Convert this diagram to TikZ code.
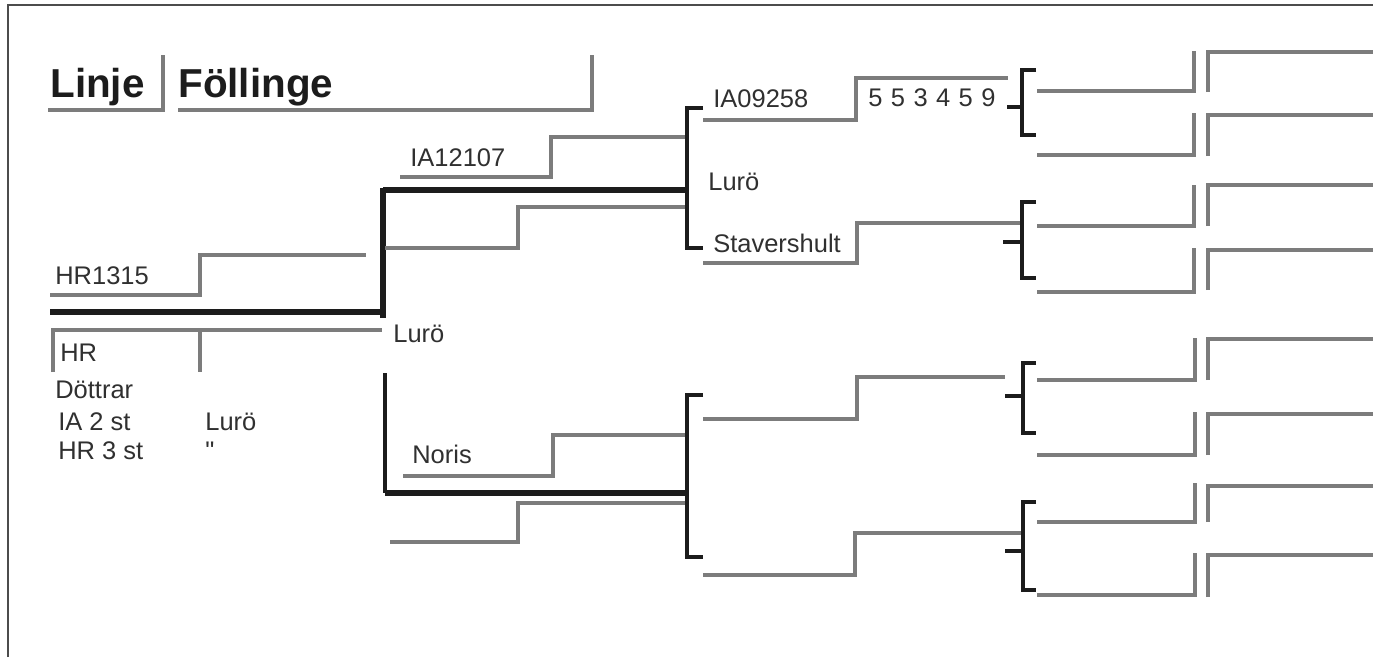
\documentclass[tikz,border=0pt]{standalone}
\usepackage{fontspec}
\setmainfont{Liberation Sans}
\usepackage{xcolor}
\usetikzlibrary{positioning}
\definecolor{scangray}{HTML}{7C7C7C}
\definecolor{inkblack}{HTML}{1C1C1C}
\definecolor{textgray}{HTML}{303030}

\begin{document}
\begin{tikzpicture}[x=0.02cm, y=-0.02cm,
  lbl/.style={anchor=base west, inner sep=0pt, text=textgray, font=\fontsize{14.5}{16}\selectfont},
  head/.style={anchor=base west, inner sep=0pt, text=inkblack, font=\fontsize{23}{26}\selectfont\bfseries},
  formline/.style={draw=scangray, line width=2pt},
  mainline/.style={draw=inkblack, line width=3.4pt},
  bracket/.style={draw=inkblack, line width=2.4pt},
  frame/.style={draw=black!70, line width=0.8pt}]

\useasboundingbox (0,0) rectangle (1373,657);
\draw[frame] (8,657) -- (8,5) -- (1373,5);

% heading
\node[head] (linje) at (50,97) {Linje};
\node[head] (folling) at (178,97) {Föllinge};
\draw[formline] (48,110) -- (163,110) -- (163,55);
\draw[formline] (178,110) -- (592,110) -- (592,55);

% subject and parents
\node[lbl] (sire) at (55,284) {HR1315};
\node[lbl] (dam) at (60,361) {HR};
\node[lbl] (farm) at (393,342) {Lurö};
\draw[formline] (50,295) -- (200,295) -- (200,255) -- (366,255);
\draw[mainline] (50,312) -- (383,312);
\draw[formline] (53,372) -- (53,330) -- (382,330);
\draw[formline] (200,330) -- (200,372);
\draw[mainline] (383,188) -- (383,318);
\draw[bracket] (385,373) -- (385,493);

% daughters
\node[lbl] (dottrar) at (55,398) {Döttrar};
\node[lbl] (ia) at (58,430) {IA 2 st};
\node[lbl] (hr) at (58,459) {HR 3 st};
\node[lbl] (iafarm) at (205,430) {Lurö};
\node[lbl] (hrfarm) at (205,459) {\textquotedbl};

% grandparents
\node[lbl] (ss) at (410,166) {IA12107};
\node[lbl] (ds) at (412,463) {Noris};
\draw[formline] (400,177) -- (551,177) -- (551,137) -- (687,137);
\draw[mainline] (383,190) -- (688,190);
\draw[formline] (385,248) -- (518,248) -- (518,207) -- (687,207);
\draw[formline] (403,476) -- (553,476) -- (553,435) -- (687,435);
\draw[mainline] (385,493) -- (688,493);
\draw[formline] (390,542) -- (518,542) -- (518,503) -- (687,503);

% great-grandparents
\draw[bracket] (703,108) -- (687,108) -- (687,248) -- (703,248);
\draw[bracket] (703,395) -- (687,395) -- (687,557) -- (703,557);
\node[lbl] (sss) at (713,107) {IA09258};
\node[lbl] (sssno) at (868,106) {\spaceskip=4.8pt 5 5 3 4 5 9};
\node[lbl] (ssfarm) at (708,190) {Lurö};
\node[lbl] (sds) at (713,252) {Stavershult};
\draw[formline] (703,120) -- (856,120) -- (856,78) -- (1008,78);
\draw[formline] (703,263) -- (857,263) -- (857,223) -- (1022,223);
\draw[formline] (703,419) -- (857,419) -- (857,377) -- (1005,377);
\draw[formline] (703,575) -- (855,575) -- (855,533) -- (1022,533);

% brackets to the last generation
\draw[bracket] (1036,70) -- (1022,70) -- (1022,135) -- (1036,135);
\draw[bracket] (1007,107) -- (1022,107);
\draw[bracket] (1036,202) -- (1022,202) -- (1022,278) -- (1036,278);
\draw[bracket] (1003,242) -- (1022,242);
\draw[bracket] (1036,363) -- (1023,363) -- (1023,433) -- (1036,433);
\draw[bracket] (1005,396) -- (1023,396);
\draw[bracket] (1036,502) -- (1023,502) -- (1023,590) -- (1036,590);
\draw[bracket] (1005,551) -- (1023,551);

% last generation
\draw[formline] (1037,91) -- (1194,91) -- (1194,51);
\draw[formline] (1208,92) -- (1208,52) -- (1373,52);
\draw[formline] (1037,155) -- (1194,155) -- (1194,113);
\draw[formline] (1208,156) -- (1208,115) -- (1373,115);
\draw[formline] (1037,226) -- (1194,226) -- (1194,185);
\draw[formline] (1208,226) -- (1208,185) -- (1373,185);
\draw[formline] (1037,292) -- (1194,292) -- (1194,248);
\draw[formline] (1208,290) -- (1208,250) -- (1373,250);
\draw[formline] (1037,380) -- (1195,380) -- (1195,338);
\draw[formline] (1208,380) -- (1208,339) -- (1373,339);
\draw[formline] (1037,455) -- (1195,455) -- (1195,412);
\draw[formline] (1208,455) -- (1208,414) -- (1373,414);
\draw[formline] (1037,522) -- (1195,522) -- (1195,483);
\draw[formline] (1208,522) -- (1208,486) -- (1373,486);
\draw[formline] (1037,595) -- (1195,595) -- (1195,553);
\draw[formline] (1208,597) -- (1208,555) -- (1373,555);
\end{tikzpicture}
\end{document}
